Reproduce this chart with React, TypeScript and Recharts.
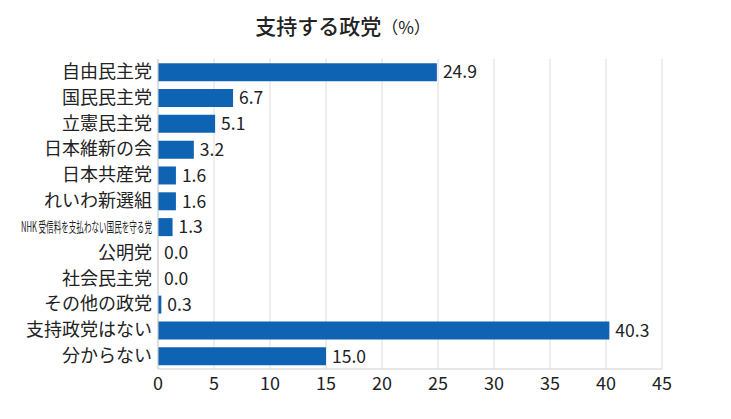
import React from "react";
import { Bar, BarChart, CartesianGrid, LabelList, XAxis, YAxis } from "recharts";

const parties = [
  "自由民主党",
  "国民民主党",
  "立憲民主党",
  "日本維新の会",
  "日本共産党",
  "れいわ新選組",
  "NHK 受信料を支払わない国民を守る党",
  "公明党",
  "社会民主党",
  "その他の政党",
  "支持政党はない",
  "分からない"
];
const support = [24.9, 6.7, 5.1, 3.2, 1.6, 1.6, 1.3, 0.0, 0.0, 0.3, 40.3, 15.0];
const xTicks = [0, 5, 10, 15, 20, 25, 30, 35, 40, 45];

const data = parties.map((name, i) => ({ name, value: support[i] }));

const FONT = "'Noto Sans CJK JP', 'Noto Sans', sans-serif";
const TEXT = "#222";

const PartyTick = (props: any) => {
  const { x, y, payload } = props;
  const label: string = payload.value;
  if (label.length > 10) {
    return (
      <text
        x={x + 2}
        y={y}
        dy={5}
        textAnchor="end"
        fontSize={14}
        fill={TEXT}
        fontFamily={FONT}
        textLength={131}
        lengthAdjust="spacingAndGlyphs"
      >
        {label}
      </text>
    );
  }
  return (
    <text x={x + 2} y={y} dy={6} textAnchor="end" fontSize={18} fill={TEXT} fontFamily={FONT}>
      {label}
    </text>
  );
};

export default function App() {
  return (
    <div style={{ position: "absolute", left: 0, top: 0, width: 731, height: 419, background: "#fff" }}>
      <div
        style={{
          position: "absolute",
          left: 0,
          top: 10,
          width: 686,
          textAlign: "center",
          fontFamily: FONT,
          color: TEXT
        }}
      >
        <span style={{ fontSize: 21, fontWeight: 500 }}>支持する政党</span>
        <span style={{ fontSize: 17 }}>（%）</span>
      </div>
      <BarChart
        width={731}
        height={419}
        data={data}
        layout="vertical"
        margin={{ top: 59, right: 69, bottom: 20, left: 0 }}
        barCategoryGap="16%"
      >
        <CartesianGrid horizontal={false} stroke="#dcdcdc" />
        <XAxis
          type="number"
          domain={[0, 45]}
          ticks={xTicks}
          interval={0}
          axisLine={{ stroke: "#d0d0d0" }}
          tickLine={false}
          height={30}
          tick={{ fill: TEXT, fontSize: 18, fontFamily: FONT }}
        />
        <YAxis
          type="category"
          dataKey="name"
          width={158}
          axisLine={{ stroke: "#d0d0d0" }}
          tickLine={false}
          interval={0}
          tick={<PartyTick />}
        />
        <Bar dataKey="value" fill="#0e63b3" minPointSize={0.01} isAnimationActive={false}>
          <LabelList
            dataKey="value"
            position="right"
            offset={6}
            formatter={(v: number) => v.toFixed(1)}
            style={{ fill: TEXT, fontSize: 17.5, fontFamily: FONT }}
          />
        </Bar>
      </BarChart>
    </div>
  );
}
